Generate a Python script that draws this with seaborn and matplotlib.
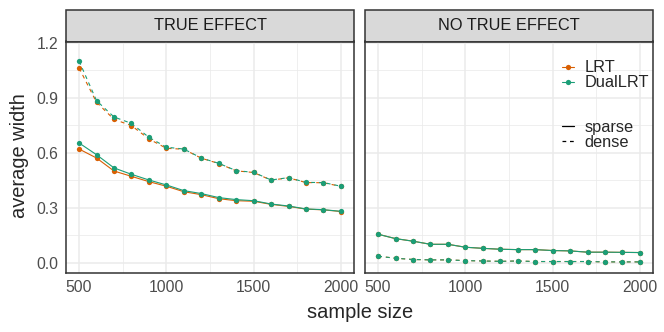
import matplotlib
matplotlib.use("Agg")
import matplotlib.pyplot as plt
from matplotlib.lines import Line2D
import numpy as np
import pandas as pd
import seaborn as sns

sns.set_style("white")
plt.rcParams['font.family'] = ['Liberation Sans', 'DejaVu Sans']

# data
n = [500, 600, 700, 800, 900, 1000, 1100, 1200, 1300, 1400, 1500, 1600, 1700, 1800, 1900, 2000]

true_sparse_lrt = [0.620, 0.571, 0.500, 0.471, 0.442, 0.417, 0.387, 0.371, 0.349, 0.338, 0.335, 0.318, 0.307, 0.292, 0.288, 0.279]
true_sparse_dual = [0.653, 0.589, 0.517, 0.482, 0.451, 0.424, 0.393, 0.377, 0.355, 0.344, 0.338, 0.320, 0.309, 0.293, 0.289, 0.280]
true_dense_lrt = [1.062, 0.875, 0.782, 0.748, 0.675, 0.624, 0.619, 0.570, 0.541, 0.501, 0.492, 0.450, 0.463, 0.437, 0.436, 0.416]
true_dense_dual = [1.100, 0.884, 0.795, 0.760, 0.684, 0.630, 0.620, 0.571, 0.542, 0.502, 0.493, 0.451, 0.464, 0.438, 0.437, 0.417]

null_sparse_lrt = [0.155, 0.131, 0.117, 0.100, 0.100, 0.084, 0.078, 0.073, 0.071, 0.071, 0.066, 0.064, 0.057, 0.057, 0.056, 0.055]
null_sparse_dual = [0.155, 0.131, 0.117, 0.100, 0.100, 0.084, 0.078, 0.073, 0.071, 0.071, 0.066, 0.064, 0.057, 0.057, 0.056, 0.055]
null_dense_lrt = [0.035, 0.024, 0.017, 0.015, 0.015, 0.011, 0.009, 0.007, 0.009, 0.006, 0.006, 0.006, 0.006, 0.004, 0.004, 0.004]
null_dense_dual = [0.035, 0.024, 0.017, 0.015, 0.015, 0.011, 0.009, 0.007, 0.009, 0.006, 0.006, 0.006, 0.006, 0.004, 0.004, 0.004]

panels = ["TRUE EFFECT", "NO TRUE EFFECT"]
methods = ["LRT", "DualLRT"]
designs = ["sparse", "dense"]

series = {
    ("TRUE EFFECT", "LRT", "sparse"): true_sparse_lrt,
    ("TRUE EFFECT", "DualLRT", "sparse"): true_sparse_dual,
    ("TRUE EFFECT", "LRT", "dense"): true_dense_lrt,
    ("TRUE EFFECT", "DualLRT", "dense"): true_dense_dual,
    ("NO TRUE EFFECT", "LRT", "sparse"): null_sparse_lrt,
    ("NO TRUE EFFECT", "DualLRT", "sparse"): null_sparse_dual,
    ("NO TRUE EFFECT", "LRT", "dense"): null_dense_lrt,
    ("NO TRUE EFFECT", "DualLRT", "dense"): null_dense_dual,
}
rows = []
for (p, m, d), vals in series.items():
    for x, v in zip(n, vals):
        rows.append(dict(panel=p, method=m, design=d, n=x, width=v))
df = pd.DataFrame(rows)

pal = {"LRT": "#D95F02", "DualLRT": "#1B9E77"}

fig = plt.figure(figsize=(6.64, 3.32), dpi=100)
W, H = 664, 332
top, bot = 41.5, 272.7
axes = []
for left in [66, 365]:
    ax = fig.add_axes([left / W, (H - bot) / H, 288 / W, (bot - top) / H])
    axes.append(ax)

for ax, p in zip(axes, panels):
    sub = df[df.panel == p]
    for m in methods:
        for d in designs:
            s = sub[(sub.method == m) & (sub.design == d)]
            sns.lineplot(data=s, x="n", y="width", ax=ax, color=pal[m],
                         marker="o", markersize=3.8, markeredgewidth=0,
                         lw=0.8, legend=False, linestyle="-" if d == "sparse" else "--")
    for l in ax.get_lines():
        if l.get_linestyle() == "--":
            l.set_dashes((3.5, 3.5))
    ax.set_xlim(425, 2075)
    ax.set_ylim(-0.055, 1.207)
    ax.set_xticks([500, 1000, 1500, 2000])
    ax.set_xticks([750, 1250, 1750], minor=True)
    ax.set_yticks([0.0, 0.3, 0.6, 0.9, 1.2])
    ax.set_yticks([0.15, 0.45, 0.75, 1.05], minor=True)
    ax.grid(True, which="major", color="#EBEBEB", lw=1.1)
    ax.grid(True, which="minor", color="#EBEBEB", lw=0.55)
    ax.set_axisbelow(True)
    for sp in ax.spines.values():
        sp.set_color("#333333")
        sp.set_linewidth(1.1)
    ax.tick_params(which="major", length=3.6, width=1.0, color="#333333",
                   labelsize=11.3, labelcolor="#4D4D4D", pad=2, direction="out")
    ax.tick_params(which="minor", length=0)
    ax.set_xlabel("")
    ax.set_ylabel("")
    # facet strip
    ax.text(0.5, 1.068, p, transform=ax.transAxes, ha="center", va="center",
            fontsize=11.8, color="#1A1A1A")
    strip = plt.Rectangle((0, 1.0), 1, 31.5 / (bot - top), transform=ax.transAxes,
                          fc="#D9D9D9", ec="#333333", lw=1.1, clip_on=False, zorder=-1)
    ax.add_patch(strip)

axes[0].set_yticklabels(["0.0", "0.3", "0.6", "0.9", "1.2"])
axes[1].tick_params(axis="y", which="both", left=False, labelleft=False)

fig.text(20 / W, (H - 155.5) / H, "average width", rotation=90,
         ha="center", va="center", fontsize=14.4)
fig.text(360 / W, (H - 313) / H, "sample size", ha="center", va="center", fontsize=14.4)

ax2 = axes[1]
h1 = [Line2D([], [], color=pal[m], marker="o", markersize=3.8, markeredgewidth=0, lw=0.8)
      for m in methods]
leg1 = ax2.legend(h1, methods, loc="upper left", bbox_to_anchor=(0.66, 0.947),
                  frameon=False, fontsize=11.8, handlelength=0.75, handletextpad=0.63,
                  labelspacing=0.0, borderaxespad=0)
ax2.add_artist(leg1)
h2 = [Line2D([], [], color="black", lw=0.9),
      Line2D([], [], color="black", lw=0.9, dashes=(3, 3))]
ax2.legend(h2, designs, loc="upper left", bbox_to_anchor=(0.66, 0.69),
           frameon=False, fontsize=11.8, handlelength=0.75, handletextpad=0.63,
           labelspacing=0.0, borderaxespad=0)

fig.savefig("out.png", dpi=100)
